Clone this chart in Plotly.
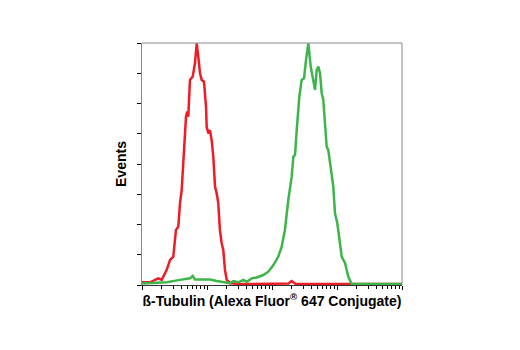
import plotly.graph_objects as go

# Red histogram (control)
red_x = [1.0, 1.33, 1.78, 2.01, 2.40, 2.70, 3.03, 3.33, 3.62, 3.84, 4.08, 4.32, 4.59, 4.75,
         4.97, 5.15, 5.47, 6.03, 6.53, 6.95, 7.35, 7.80, 8.29, 8.99, 9.66, 9.89, 10.5, 11.1,
         11.8, 12.5, 13.3, 14.1, 14.9, 15.8, 16.8, 17.8, 18.9, 20.1, 22.6, 30, 50, 80, 120,
         180, 200, 230, 400, 800, 1500, 3000, 6000, 10000]
red_y = [0.09, 0.09, 0.22, 0.17, 0.5, 0.83, 0.94, 1.82, 1.93, 2.7, 3.14, 4.24, 5.01, 5.56,
         5.73, 5.56, 6.78, 6.89, 7.33, 7.99, 7.55, 7.0, 6.78, 6.72, 5.89, 5.23, 5.01, 5.12,
         4.79, 4.24, 3.25, 3.03, 2.7, 1.82, 1.38, 1.16, 0.5, 0.17, 0.06, 0.04, 0.03, 0.04, 0.03,
         0.05, 0.13, 0.04, 0.03, 0.03, 0.03, 0.03, 0.03, 0.03]

# Green histogram (stained)
green_x = [1.0, 1.5, 2.40, 3.84, 5.47, 6.03, 6.53, 7.80, 9.89, 11.1, 14.1, 17.8, 22.6, 25.4,
           30.3, 36.2, 40.8, 48.7, 58.2, 73.5, 87.7, 105, 125, 141, 158, 178, 201, 213, 226,
           240, 263, 286, 311, 334, 362, 394, 432, 459, 488, 516, 547, 582, 615, 694, 735,
           829, 877, 931, 1010, 1110, 1180, 1330, 1490, 1680, 2000, 3000, 5000, 10000]
green_y = [0.05, 0.06, 0.09, 0.17, 0.22, 0.3, 0.18, 0.18, 0.17, 0.18, 0.13, 0.09, 0.06, 0.13,
           0.09, 0.17, 0.11, 0.22, 0.25, 0.33, 0.44, 0.66, 0.94, 1.27, 1.82, 2.81, 3.58, 4.24,
           4.30, 5.12, 6.22, 6.78, 6.83, 7.44, 7.99, 7.22, 6.67, 6.45, 7.11, 7.22, 7.0, 6.34,
           6.12, 4.57, 4.46, 3.58, 3.25, 2.37, 2.05, 1.38, 0.94, 0.72, 0.28, 0.03, 0.03, 0.03,
           0.03, 0.03]

x_major_ticks = [1, 10, 100, 1000, 10000]
x_minor_ticks = [m * d for d in [1, 10, 100, 1000] for m in range(2, 10)]
y_ticks = [0, 1, 2, 3, 4, 5, 6, 7, 8]

x_title = "ß-Tubulin (Alexa Fluor<sup>®</sup> 647 Conjugate)"
y_title = "Events"

title_font = dict(size=14, family="Liberation Sans, Arial, sans-serif", color="black")

fig = go.Figure()
fig.add_trace(go.Scatter(x=red_x, y=red_y, mode="lines",
                         line=dict(color="#ee1c25", width=2.5), showlegend=False))
fig.add_trace(go.Scatter(x=green_x, y=green_y, mode="lines",
                         line=dict(color="#3db54a", width=2.5), showlegend=False))

fig.update_layout(
    width=520, height=350,
    margin=dict(l=142, r=118, t=43, b=65),
    paper_bgcolor="white", plot_bgcolor="white",
    font=dict(family="Liberation Sans, Arial, sans-serif", color="black"),
    xaxis=dict(type="log", range=[0, 4], tickvals=x_major_ticks, showticklabels=False,
               ticks="outside", ticklen=4, tickcolor="black", tickwidth=1,
               minor=dict(tickvals=x_minor_ticks, ticks="outside", ticklen=3,
                          tickcolor="black", tickwidth=1),
               showgrid=False, zeroline=False, showline=True, linecolor="#333333", linewidth=1,
               title=dict(text="<b>" + x_title + "</b>", standoff=7, font=title_font)),
    yaxis=dict(range=[0, 8], tickvals=y_ticks, showticklabels=False,
               ticks="outside", ticklen=4, tickcolor="black", tickwidth=1,
               showgrid=False, zeroline=False, showline=True, linecolor="#888888", linewidth=1,
               title=dict(text="<b>" + y_title + "</b>", standoff=7, font=title_font)),
    shapes=[dict(type="line", xref="paper", yref="paper", x0=0, x1=1, y0=1, y1=1,
                 line=dict(color="#888888", width=1)),
            dict(type="line", xref="paper", yref="paper", x0=1, x1=1, y0=0, y1=1,
                 line=dict(color="#888888", width=1))],
)

fig.write_html("out.html")
